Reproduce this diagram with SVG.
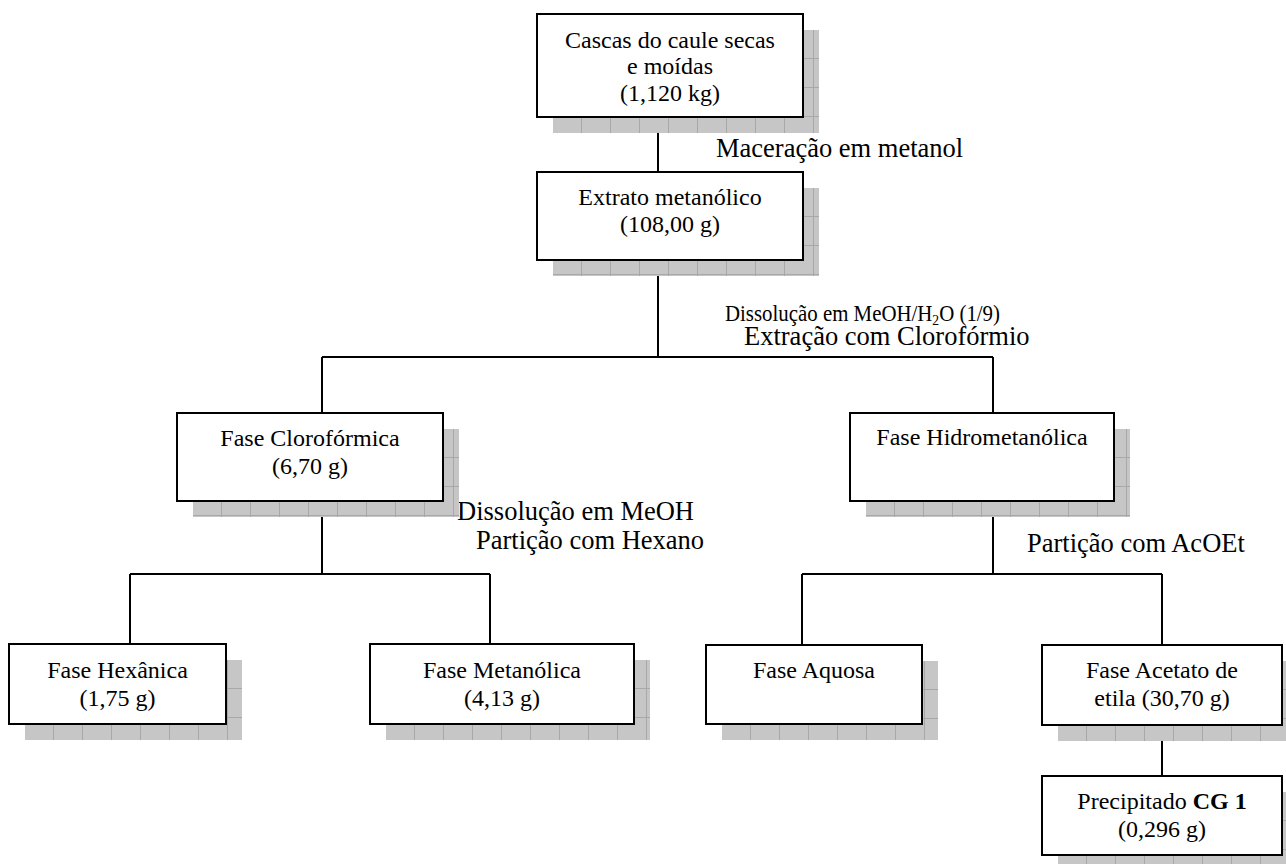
<svg xmlns="http://www.w3.org/2000/svg" width="1286" height="864" viewBox="0 0 1286 864">
<style>
.box{fill:#ffffff;stroke:#000000;stroke-width:2}
.sh{fill:url(#grid)}
.t{font-family:"Liberation Serif","Times New Roman",serif;font-size:24px;fill:#000;text-anchor:middle}
.lb{font-family:"Liberation Serif","Times New Roman",serif;font-size:26.5px;fill:#000}
.c{stroke:#000;stroke-width:2;fill:none}
</style>
<defs>
<pattern id="grid" patternUnits="userSpaceOnUse" x="16" y="16" width="29" height="29">
<rect width="29" height="29" fill="#c6c6c6"/>
<path d="M28.5 0V29M0 28.5H29" stroke="#a8a8a8" stroke-width="1"/>
</pattern>
</defs>
<rect width="1286" height="864" fill="#ffffff"/>
<g id="connectors">
<path class="c" d="M658 117V172"/>
<path class="c" d="M658 260V357M322 357H993M322 357V413M993 357V413"/>
<path class="c" d="M322 501V574M130 574H490M130 574V644M490 574V644"/>
<path class="c" d="M993 501V574M802 574H1162M802 574V645M1162 574V645"/>
<path class="c" d="M1162 725V776"/>
</g>
<g id="labels">
<text class="lb" x="716" y="157">Maceração em metanol</text>
<text class="lb" x="725" y="321" style="font-size:23px" textLength="275" lengthAdjust="spacingAndGlyphs">Dissolução em MeOH/H<tspan font-size="15" dy="4">2</tspan><tspan dy="-4">O (1/9)</tspan></text>
<text class="lb" x="744" y="345">Extração com Clorofórmio</text>
<text class="lb" x="457" y="520">Dissolução em MeOH</text>
<text class="lb" x="476" y="549">Partição com Hexano</text>
<text class="lb" x="1027" y="552">Partição com AcOEt</text>
</g>
<g id="n1" transform="translate(537,14)">
<rect class="sh" x="16" y="16" width="266" height="103"/>
<rect class="box" x="0" y="0" width="266" height="103"/>
<text class="t" x="133" y="34">Cascas do caule secas</text>
<text class="t" x="133" y="60">e moídas</text>
<text class="t" x="133" y="87">(1,120 kg)</text>
</g>
<g id="n2" transform="translate(537,172)">
<rect class="sh" x="16" y="16" width="266" height="88"/>
<rect class="box" x="0" y="0" width="266" height="88"/>
<text class="t" x="133" y="33">Extrato metanólico</text>
<text class="t" x="133" y="60">(108,00 g)</text>
</g>
<g id="n3" transform="translate(177,413)">
<rect class="sh" x="16" y="16" width="266" height="88"/>
<rect class="box" x="0" y="0" width="266" height="88"/>
<text class="t" x="133" y="33">Fase Clorofórmica</text>
<text class="t" x="133" y="61">(6,70 g)</text>
</g>
<g id="n4" transform="translate(850,413)">
<rect class="sh" x="16" y="16" width="264" height="88"/>
<rect class="box" x="0" y="0" width="264" height="88"/>
<text class="t" x="132" y="32">Fase Hidrometanólica</text>
</g>
<g id="n5" transform="translate(9,644)">
<rect class="sh" x="16" y="16" width="217" height="80"/>
<rect class="box" x="0" y="0" width="217" height="80"/>
<text class="t" x="108.5" y="34">Fase Hexânica</text>
<text class="t" x="108.5" y="62">(1,75 g)</text>
</g>
<g id="n6" transform="translate(370,644)">
<rect class="sh" x="16" y="16" width="264" height="80"/>
<rect class="box" x="0" y="0" width="264" height="80"/>
<text class="t" x="132" y="34">Fase Metanólica</text>
<text class="t" x="132" y="62">(4,13 g)</text>
</g>
<g id="n7" transform="translate(706,645)">
<rect class="sh" x="16" y="16" width="216" height="79"/>
<rect class="box" x="0" y="0" width="216" height="79"/>
<text class="t" x="108" y="33">Fase Aquosa</text>
</g>
<g id="n8" transform="translate(1042,645)">
<rect class="sh" x="16" y="16" width="240" height="80"/>
<rect class="box" x="0" y="0" width="240" height="80"/>
<text class="t" x="120" y="33">Fase Acetato de</text>
<text class="t" x="120" y="61">etila (30,70 g)</text>
</g>
<g id="n9" transform="translate(1042,776)">
<rect class="sh" x="16" y="16" width="240" height="79"/>
<rect class="box" x="0" y="0" width="240" height="79"/>
<text class="t" x="120" y="33">Precipitado <tspan font-weight="bold">CG 1</tspan></text>
<text class="t" x="120" y="61">(0,296 g)</text>
</g>
</svg>
